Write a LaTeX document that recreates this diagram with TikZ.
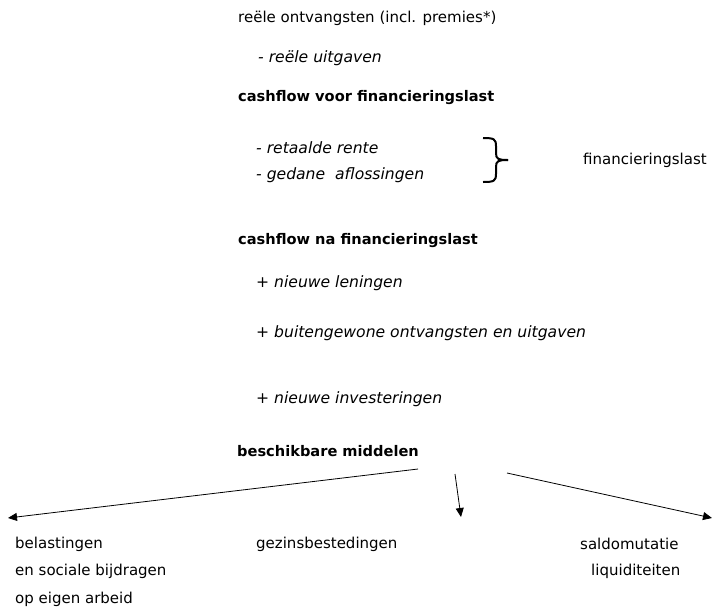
\documentclass[tikz,border=0pt]{standalone}
\usepackage{fontspec}
\setmainfont{DejaVu Sans}
\usetikzlibrary{arrows.meta}
\begin{document}
\begin{tikzpicture}[x=1pt,y=-1pt,
  lbl/.style={anchor=west,inner sep=0pt,font=\fontsize{15}{18}\selectfont},
  itl/.style={lbl,font=\fontsize{15.6}{18}\selectfont\itshape},
  bld/.style={lbl,font=\fontsize{14.6}{18}\selectfont\bfseries},
  arr/.style={line width=0.8pt,-{Triangle[length=9pt,width=8pt]}}]
\useasboundingbox (0,0) rectangle (714,614);
\node[lbl] (ro) at (238,18) {reële ontvangsten (incl. premies*)};
\node[itl] (ru) at (258,58) {- reële uitgaven};
\node[bld] (cv) at (238,98) {cashflow voor financieringslast};
\node[itl] (rr) at (256,148) {- retaalde rente};
\node[itl] (ga) at (256,175) {- gedane\ \ aflossingen};
\node[lbl] (fl) at (583,160) {financieringslast};
\draw[line width=2pt] (483,138) .. controls (494,138) and (496,139) .. (496,146) -- (496,153)
  .. controls (496,159) and (498,160) .. (508,160);
\draw[line width=2pt] (483,182) .. controls (494,182) and (496,181) .. (496,174) -- (496,167)
  .. controls (496,161) and (498,160) .. (508,160);
\node[bld] (cn) at (238,241) {cashflow na financieringslast};
\node[itl] (nl) at (256,283) {+ nieuwe leningen};
\node[itl] (bo) at (256,333) {+ buitengewone ontvangsten en uitgaven};
\node[itl] (ni) at (256,399) {+ nieuwe investeringen};
\node[bld] (bm) at (237,451) {beschikbare middelen};
\coordinate (s1) at (418,469);
\coordinate (s2) at (455,474);
\coordinate (s3) at (507,473);
\coordinate (e1) at (8,518);
\coordinate (e2) at (461,517);
\coordinate (e3) at (712,518);
\draw[arr] (s1) -- (e1);
\draw[arr] (s2) -- (e2);
\draw[arr] (s3) -- (e3);
\node[lbl] (b1) at (15,544) {belastingen};
\node[lbl] (b2) at (15,571) {en sociale bijdragen};
\node[lbl] (b3) at (15,599) {op eigen arbeid};
\node[lbl] (gz) at (256,544) {gezinsbestedingen};
\node[lbl] (sm) at (580,544) {saldomutatie};
\node[lbl] (lq) at (591,571) {liquiditeiten};
\end{tikzpicture}
\end{document}
